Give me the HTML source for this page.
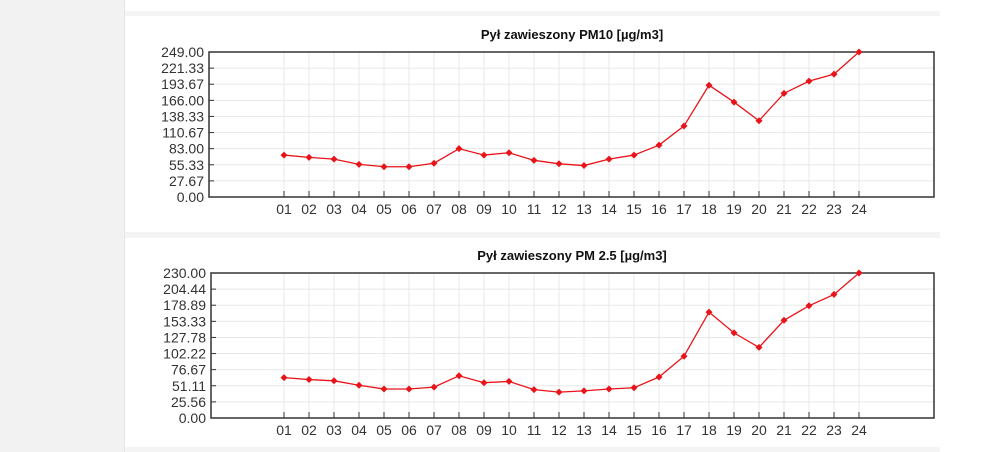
<!DOCTYPE html>
<html><head><meta charset="utf-8"><style>
body{margin:0;width:1000px;height:452px;background:#fff;overflow:hidden;font-family:"Liberation Sans",sans-serif}
#side{position:absolute;left:0;top:0;width:124px;height:452px;background:#f2f2f2;border-right:1px solid #e6e6e6}
.band{position:absolute;left:125px;width:815px;background:#f4f4f4}
svg{position:absolute;left:0;top:0}
</style></head><body>
<div id="side"></div>
<div class="band" style="top:11px;height:5px"></div>
<div class="band" style="top:232px;height:6px"></div>
<div class="band" style="top:447px;height:5px"></div>
<svg id="chart" width="1000" height="452"></svg>
<script>
const hours=["01","02","03","04","05","06","07","08","09","10","11","12","13","14","15","16","17","18","19","20","21","22","23","24"];
const pm10=[72,68,65,56,52,52,58,83,72,76,63,57,54,65,72,89,122,192,163,131,178,199,211,249];
const pm25=[64,61,59,52,46,46,49,67,56,58,45,41,43,46,48,65,98,168,135,112,155,178,196,230];
const pm10Ticks=["0.00","27.67","55.33","83.00","110.67","138.33","166.00","193.67","221.33","249.00"];
const pm25Ticks=["0.00","25.56","51.11","76.67","102.22","127.78","153.33","178.89","204.44","230.00"];
const svg=document.getElementById('chart');
const NS='http://www.w3.org/2000/svg';
function mk(t,a){const e=document.createElementNS(NS,t);for(const k in a)e.setAttribute(k,a[k]);svg.appendChild(e);return e;}
function draw(title,vals,ticks,top,bottom,left,name){
  const right=934,max=parseFloat(ticks[ticks.length-1]);
  const x=i=>284+i*25, y=v=>bottom-(v/max)*(bottom-top);
  let t=mk('text',{x:572,y:top-13,'text-anchor':'middle','font-size':'13','font-weight':'bold',fill:'#111'});t.textContent=title;
  
  
  ticks.forEach((lb,i)=>{const yy=bottom-i*(bottom-top)/(ticks.length-1);
    const g=mk('line',{x1:left,x2:right,y1:yy,y2:yy,stroke:'#e8e8e8'});
    
    
    const tk=mk('line',{x1:left,x2:left+5,y1:yy,y2:yy,stroke:'#333'});
    
    
    const l=mk('text',{x:left-5,y:yy+5,'text-anchor':'end','font-size':'14',fill:'#333'});l.textContent=lb;
    
    });
  hours.forEach((h,i)=>{
    const g=mk('line',{x1:x(i),x2:x(i),y1:top,y2:bottom,stroke:'#e8e8e8'});
    
    
    const tk=mk('line',{x1:x(i),x2:x(i),y1:bottom-6,y2:bottom,stroke:'#333'});
    
    
    const l=mk('text',{x:x(i),y:bottom+17,'text-anchor':'middle','font-size':'14',fill:'#333'});l.textContent=h;
    
    });
  const fr=mk('rect',{x:left,y:top,width:right-left,height:bottom-top,fill:'none',stroke:'#333','stroke-width':'1.5'});
  
  
  const ln=mk('polyline',{points:vals.map((v,i)=>x(i)+','+y(v)).join(' '),fill:'none',stroke:'#e8141a','stroke-width':'1.3'});
  
  
  vals.forEach((v,i)=>{const p=mk('path',{d:`M${x(i)},${y(v)-3.5}L${x(i)+3.5},${y(v)}L${x(i)},${y(v)+3.5}L${x(i)-3.5},${y(v)}Z`,fill:'#e8141a'});
    
    });
}
draw('Pył zawieszony PM10 [µg/m3]',pm10,pm10Ticks,52,197,209,'pm10');
draw('Pył zawieszony PM 2.5 [µg/m3]',pm25,pm25Ticks,273,418,211,'pm25');
</script>
</body></html>
